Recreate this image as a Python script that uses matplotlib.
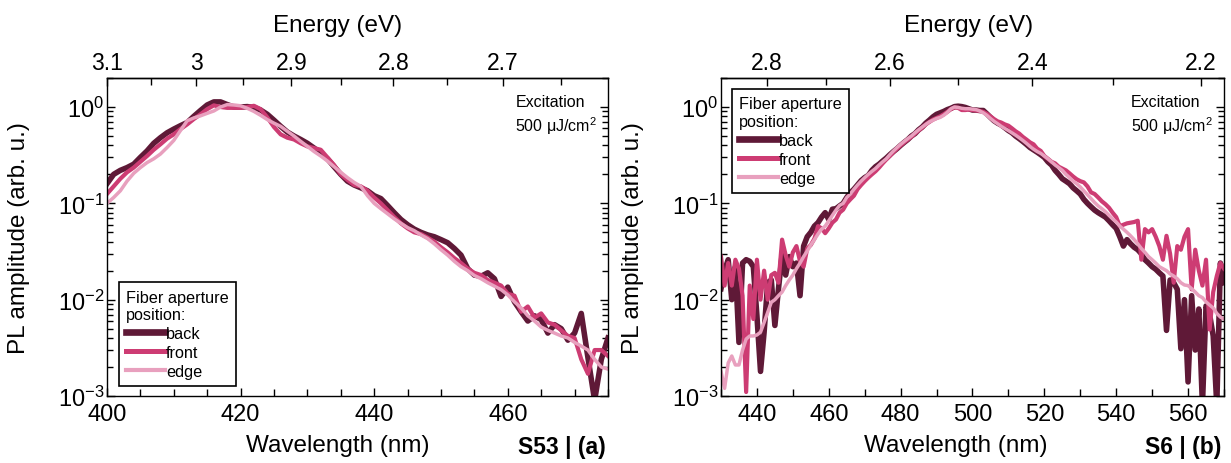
import matplotlib
matplotlib.use("Agg")
import matplotlib.pyplot as plt
import numpy as np
from matplotlib.ticker import MultipleLocator, LogLocator, LogFormatterMathtext, NullFormatter

plt.rcParams.update({
    "font.family": ["Liberation Sans", "DejaVu Sans"],
    "mathtext.fontset": "custom",
    "mathtext.rm": "Liberation Sans",
    "mathtext.default": "regular",
    "axes.linewidth": 1.0,
})

BACK = "#5f1937"
FRONT = "#cd3c73"
EDGE = "#e8a0be"
HC = 1240.0  # eV*nm

# ---- panel (a): S53, 400-475 nm, 1 nm steps
wl_a = np.arange(400, 476)
back_a = [0.16, 0.20, 0.22, 0.235, 0.255, 0.30, 0.35, 0.42, 0.48, 0.54,
          0.59, 0.64, 0.69, 0.80, 0.92, 1.05, 1.13, 1.13, 1.06, 1.00,
          1.00, 1.01, 0.99, 0.93, 0.84, 0.73, 0.63, 0.55, 0.50, 0.46,
          0.42, 0.375, 0.33, 0.29, 0.24, 0.20, 0.17, 0.155, 0.145, 0.135,
          0.12, 0.112, 0.095, 0.08, 0.068, 0.06, 0.054, 0.05, 0.047, 0.045,
          0.042, 0.039, 0.034, 0.029, 0.021, 0.018, 0.0175, 0.019, 0.0165, 0.0108,
          0.0135, 0.0095, 0.0075, 0.006, 0.0068, 0.0062, 0.0045, 0.0055, 0.005, 0.0038,
          0.0045, 0.0072, 0.0025, 0.0009, 0.0024, 0.0040]
front_a = [0.125, 0.15, 0.18, 0.21, 0.235, 0.27, 0.31, 0.36, 0.41, 0.47,
           0.52, 0.59, 0.66, 0.75, 0.84, 0.95, 1.04, 1.00, 0.98, 0.98,
           0.98, 1.00, 1.03, 0.95, 0.78, 0.62, 0.52, 0.48, 0.46, 0.42,
           0.39, 0.375, 0.36, 0.30, 0.25, 0.20, 0.175, 0.155, 0.15, 0.135,
           0.115, 0.10, 0.085, 0.072, 0.062, 0.055, 0.050, 0.048, 0.044, 0.040,
           0.035, 0.031, 0.027, 0.024, 0.021, 0.019, 0.018, 0.016, 0.015, 0.014,
           0.0115, 0.011, 0.0075, 0.0085, 0.0065, 0.0072, 0.0058, 0.0055, 0.0048, 0.0042,
           0.0040, 0.0024, 0.0017, 0.0030, 0.0030, 0.0026]
edge_a = [0.10, 0.115, 0.135, 0.17, 0.205, 0.235, 0.265, 0.29, 0.325, 0.38,
          0.45, 0.57, 0.72, 0.77, 0.81, 0.86, 0.91, 1.00, 1.06, 1.05,
          1.03, 0.97, 0.90, 0.82, 0.74, 0.68, 0.63, 0.56, 0.50, 0.44,
          0.39, 0.345, 0.31, 0.275, 0.24, 0.21, 0.185, 0.165, 0.15, 0.12,
          0.10, 0.088, 0.078, 0.069, 0.062, 0.056, 0.052, 0.047, 0.043, 0.038,
          0.033, 0.029, 0.025, 0.022, 0.020, 0.0178, 0.0165, 0.015, 0.0138, 0.0127,
          0.0112, 0.0095, 0.0082, 0.0068, 0.006, 0.0052, 0.0048, 0.0045, 0.0042, 0.004,
          0.0036, 0.0033, 0.003, 0.0024, 0.002, 0.0019]

# ---- panel (b): S6, 430-570 nm, 1 nm steps
wl_b = np.arange(430, 571)
back_b = [0.013, 0.020, 0.026, 0.010, 0.022, 0.0036, 0.024, 0.026, 0.025, 0.022,
          0.0068, 0.0018, 0.0046, 0.015, 0.016, 0.0054, 0.013, 0.029, 0.018, 0.028,
          0.022, 0.024, 0.011, 0.036, 0.045, 0.050, 0.058, 0.063, 0.072, 0.080,
          0.068, 0.087, 0.088, 0.094, 0.10, 0.115, 0.129, 0.14, 0.155, 0.172,
          0.185, 0.195, 0.22, 0.24, 0.255, 0.275, 0.295, 0.32, 0.345, 0.37,
          0.40, 0.43, 0.46, 0.50, 0.53, 0.58, 0.62, 0.68, 0.73, 0.79,
          0.84, 0.87, 0.90, 0.94, 0.97, 1.01, 1.02, 1.01, 0.99, 0.96,
          0.93, 0.93, 0.92, 0.92, 0.85, 0.78, 0.72, 0.68, 0.65, 0.61,
          0.57, 0.54, 0.50, 0.47, 0.44, 0.41, 0.38, 0.36, 0.34, 0.32,
          0.30, 0.27, 0.25, 0.22, 0.20, 0.18, 0.17, 0.16, 0.145, 0.135,
          0.125, 0.11, 0.10, 0.092, 0.085, 0.08, 0.076, 0.072, 0.066, 0.06,
          0.055, 0.045, 0.036, 0.042, 0.038, 0.035, 0.033, 0.03, 0.026, 0.024,
          0.022, 0.0207, 0.019, 0.0176, 0.0048, 0.016, 0.015, 0.0128, 0.0031, 0.010,
          0.0014, 0.011, 0.003, 0.008, 0.0008, 0.0086, 0.007, 0.0042, 0.0008, 0.024,
          0.015]
front_b = [0.028, 0.014, 0.024, 0.014, 0.026, 0.021, 0.011, 0.0011, 0.014, 0.0063,
           0.026, 0.010, 0.020, 0.010, 0.018, 0.019, 0.015, 0.042, 0.029, 0.022,
           0.031, 0.036, 0.025, 0.022, 0.034, 0.037, 0.043, 0.058, 0.055, 0.049,
           0.055, 0.063, 0.068, 0.080, 0.086, 0.10, 0.11, 0.12, 0.14, 0.155,
           0.17, 0.185, 0.20, 0.215, 0.235, 0.26, 0.285, 0.31, 0.34, 0.37,
           0.40, 0.43, 0.46, 0.49, 0.53, 0.57, 0.61, 0.66, 0.70, 0.74,
           0.77, 0.80, 0.84, 0.89, 0.95, 0.99, 0.98, 0.93, 0.93, 0.94,
           0.93, 0.92, 0.91, 0.89, 0.85, 0.80, 0.75, 0.71, 0.69, 0.66,
           0.64, 0.60, 0.56, 0.53, 0.49, 0.46, 0.43, 0.41, 0.37, 0.35,
           0.31, 0.29, 0.27, 0.26, 0.24, 0.23, 0.22, 0.205, 0.19, 0.178,
           0.17, 0.165, 0.15, 0.13, 0.125, 0.115, 0.105, 0.098, 0.09, 0.08,
           0.072, 0.058, 0.06, 0.062, 0.063, 0.064, 0.066, 0.026, 0.054, 0.05,
           0.054, 0.045, 0.036, 0.026, 0.046, 0.03, 0.015, 0.036, 0.033, 0.045,
           0.054, 0.0128, 0.033, 0.02, 0.014, 0.026, 0.0049, 0.012, 0.0176, 0.024,
           0.021]
edge_b = [0.0018, 0.0012, 0.0022, 0.0026, 0.0021, 0.0021, 0.0030, 0.0039, 0.0042, 0.0042,
          0.0043, 0.0046, 0.0058, 0.0074, 0.0094, 0.010, 0.011, 0.012, 0.014, 0.016,
          0.018, 0.021, 0.024, 0.028, 0.032, 0.037, 0.042, 0.048, 0.054, 0.058,
          0.066, 0.075, 0.085, 0.095, 0.10, 0.115, 0.125, 0.14, 0.155, 0.17,
          0.185, 0.20, 0.215, 0.23, 0.25, 0.27, 0.29, 0.32, 0.35, 0.38,
          0.41, 0.44, 0.47, 0.50, 0.54, 0.58, 0.62, 0.66, 0.70, 0.73,
          0.76, 0.78, 0.82, 0.88, 0.96, 1.00, 0.99, 0.97, 0.96, 0.96,
          0.95, 0.94, 0.91, 0.87, 0.82, 0.76, 0.71, 0.67, 0.63, 0.60,
          0.57, 0.54, 0.51, 0.48, 0.45, 0.42, 0.39, 0.365, 0.345, 0.33,
          0.31, 0.29, 0.27, 0.25, 0.235, 0.22, 0.20, 0.185, 0.17, 0.16,
          0.148, 0.135, 0.123, 0.112, 0.102, 0.094, 0.088, 0.082, 0.075, 0.069,
          0.064, 0.058, 0.054, 0.05, 0.046, 0.042, 0.038, 0.034, 0.031, 0.028,
          0.026, 0.024, 0.022, 0.021, 0.02, 0.0185, 0.0176, 0.0165, 0.015, 0.0142,
          0.014, 0.013, 0.012, 0.011, 0.0105, 0.0095, 0.0088, 0.0082, 0.0072, 0.0066,
          0.0063]

labels = ["back", "front", "edge"]
colors = [BACK, FRONT, EDGE]
widths = [4.0, 3.0, 2.5]


def nm2ev(x):
    with np.errstate(divide="ignore"):
        return HC / np.asarray(x, dtype=float)


def panel(ax, wl, series, xlim, xmajor, xminor, ev_ticks, ev_labels, ev_minor,
          title_x, tag, leg_kw):
    for y, c, lw, lab in zip(series, colors, widths, labels):
        ax.plot(wl, y, color=c, lw=lw, label=lab, solid_joinstyle="round")
    ax.set_yscale("log")
    ax.set_xlim(*xlim)
    ax.set_ylim(1e-3, 2)
    ax.xaxis.set_major_locator(MultipleLocator(xmajor))
    ax.xaxis.set_minor_locator(MultipleLocator(xminor))
    ax.yaxis.set_major_locator(LogLocator(base=10))
    ax.yaxis.set_major_formatter(LogFormatterMathtext())
    ax.yaxis.set_minor_locator(LogLocator(base=10, subs=np.arange(2, 10)))
    ax.yaxis.set_minor_formatter(NullFormatter())
    ax.tick_params(which="both", direction="in", top=False, right=True, width=1.0)
    ax.tick_params(which="major", length=6, labelsize=17)
    ax.tick_params(axis="x", which="major", pad=5)
    ax.tick_params(axis="y", which="major", pad=2)
    ax.tick_params(which="minor", length=4)
    ax.tick_params(axis="x", which="minor", length=5)

    ax.set_xlabel("Wavelength (nm)", fontsize=17.5)
    ax.xaxis.set_label_coords(title_x[0], -0.12)
    ax.set_ylabel("PL amplitude (arb. u.)", fontsize=17.5)
    ax.yaxis.set_label_coords(-0.154, 0.5)

    sec = ax.secondary_xaxis("top", functions=(nm2ev, nm2ev))
    sec.set_xticks(ev_ticks)
    sec.set_xticklabels(ev_labels)
    sec.xaxis.set_minor_locator(MultipleLocator(ev_minor))
    sec.tick_params(which="both", direction="in", width=1.0, labelsize=16.5, pad=3)
    sec.tick_params(which="major", length=6)
    sec.tick_params(which="minor", length=5)
    ax.text(title_x[1], 1.167, "Energy (eV)", transform=ax.transAxes, fontsize=17.5,
            ha="center", va="center")

    ax.text(0.815, 0.925, "Excitation", transform=ax.transAxes, fontsize=11.5,
            ha="left", va="center")
    ax.text(0.815, 0.852, "500 μJ/cm$^2$", transform=ax.transAxes, fontsize=11.5,
            ha="left", va="center")
    ax.text(0.995, -0.160, tag, transform=ax.transAxes, fontsize=16.5,
            fontweight="bold", ha="right", va="center")

    leg = ax.legend(title="Fiber aperture\nposition:", fontsize=11.7, title_fontsize=11.7,
                    alignment="left", handlelength=2.4, handletextpad=0.05,
                    labelspacing=0.24, borderpad=0.45, borderaxespad=0,
                    fancybox=False, framealpha=1, edgecolor="black", **leg_kw)
    leg.get_frame().set_linewidth(1.2)
    for h in leg.get_lines():
        h.set_linewidth(h.get_linewidth() * 1.2)


fig = plt.figure(figsize=(12.31, 4.64), dpi=100)
ax_a = fig.add_axes([0.0869, 0.1444, 0.4070, 0.6853])
ax_b = fig.add_axes([0.5857, 0.1444, 0.4086, 0.6853])

panel(ax_a, wl_a, [back_a, front_a, edge_a], (400, 475), 20, 5,
      [3.1, 3.0, 2.9, 2.8, 2.7], ["3.1", "3", "2.9", "2.8", "2.7"], 0.05, (0.46, 0.46),
      "S53 | (a)", dict(loc="lower left", bbox_to_anchor=(0.024, 0.031)))
panel(ax_b, wl_b, [back_b, front_b, edge_b], (430, 570), 20, 10,
      [2.8, 2.6, 2.4, 2.2], ["2.8", "2.6", "2.4", "2.2"], 0.1, (0.467, 0.493),
      "S6 | (b)", dict(loc="upper left", bbox_to_anchor=(0.022, 0.965)))

fig.savefig("out.png", dpi=100)
